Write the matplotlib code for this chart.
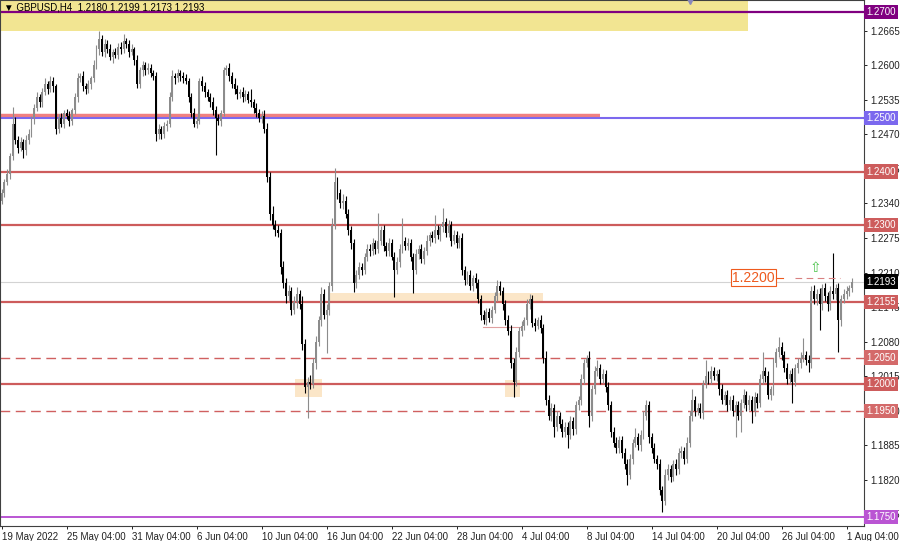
#%%
# GBPUSD H4 chart, 19 May - 1 Aug 2022
import numpy as np
import matplotlib
matplotlib.use('Agg')
import matplotlib.pyplot as plt
from matplotlib.patches import Rectangle

plt.rcParams['font.family'] = ['Liberation Sans', 'DejaVu Sans']

# 收盘价, pips above 1.2000, one value per 4H bar (19 May 04:00 -> 1 Aug 12:00)
close_pips = [
    360, 380, 395, 430, 490, 460, 445, 455, 440, 460, 470, 500, 520, 540, 530,
    550, 565, 555, 570, 560, 480, 500, 490, 510, 505, 495, 515, 540, 575, 580,
    560, 555, 565, 575, 600, 630, 650, 625, 640, 630, 615, 625, 620, 635, 630,
    645, 640, 625, 630, 610, 565, 590, 600, 590, 595, 585, 580, 470, 480, 470,
    485, 490, 540, 580, 575, 585, 580, 575, 570, 540, 510, 490, 495, 570, 560,
    550, 540, 530, 515, 500, 495, 510, 590, 595, 580, 565, 555, 545, 550, 540,
    545, 535, 530, 520, 510, 500, 505, 480, 390, 320, 300, 290, 285, 220, 190,
    165, 175, 140, 155, 170, 150, 75, -5, 5, 0, 40, 80, 120, 170, 130,
    140, 185, 300, 380, 360, 340, 345, 320, 290, 265, 190, 205, 220, 215, 240,
    255, 250, 265, 255, 270, 290, 260, 250, 265, 240, 215, 230, 255, 270, 260,
    265, 240, 215, 245, 255, 235, 250, 270, 280, 275, 290, 280, 295, 305, 285,
    300, 270, 280, 265, 275, 215, 195, 205, 185, 200, 190, 160, 130, 120, 135,
    125, 140, 165, 185, 175, 150, 120, 100, 40, 5, 60, 100, 110, 120, 150,
    160, 115, 110, 120, 105, 50, -30, -60, -45, -80, -60, -75, -90, -80, -95,
    -70, -85, -40, -30, 10, 40, 50, -60, -10, 25, 30, 10, 20, -5, -40,
    -90, -110, -120, -105, -130, -150, -170, -140, -110, -100, -115, -95, -60, -40, -100,
    -120, -140, -150, -200, -220, -170, -160, -175, -150, -160, -130, -125, -140, -110, -60,
    -30, -50, -45, -55, 0, 15, 10, 25, 15, 20, -10, -30, -20, -40, -30,
    -50, -40, -60, -35, -20, -40, -30, -50, -25, -35, 10, 25, 15, -20, -10,
    40, 60, 70, 55, 30, 10, 20, 5, 30, 40, 50, 55, 45, 40, 175,
    160, 170, 150, 180, 165, 150, 175, 170, 180, 120, 160, 170, 175, 180, 193,
]
first_open_pips = 345

# 影线长度 (pips)
upper_wick = [
    8, 6, 10, 5, 32, 12, 7, 9, 6, 8, 10, 5, 7, 9, 6,
    8, 10, 6, 9, 7, 5, 8, 10, 6, 7, 9, 5, 8, 10, 6,
    9, 7, 8, 5, 10, 8, 14, 6, 9, 7, 10, 6, 8, 7, 9,
    14, 6, 8, 9, 5, 10, 7, 8, 6, 9, 7, 5, 8, 10, 6,
    8, 7, 9, 10, 6, 8, 5, 7, 9, 6, 8, 10, 7, 6, 9,
    8, 6, 7, 10, 9, 8, 6, 7, 5, 9, 8, 10, 7, 6, 9,
    8, 7, 20, 6, 9, 7, 8, 10, 12, 9, 15, 8, 10, 7, 12,
    9, 11, 8, 10, 12, 7, 15, 10, 8, 12, 9, 10, 8, 12, 9,
    10, 8, 12, 27, 10, 8, 12, 9, 10, 7, 8, 10, 9, 8, 7,
    9, 8, 10, 7, 52, 8, 9, 7, 10, 8, 9, 10, 8, 43, 7,
    9, 8, 6, 10, 7, 9, 8, 10, 7, 8, 28, 9, 7, 26, 8,
    9, 7, 10, 8, 6, 9, 8, 7, 10, 6, 9, 8, 7, 10, 8,
    9, 7, 8, 10, 9, 7, 8, 10, 12, 9, 10, 8, 9, 7, 10,
    10, 8, 9, 7, 10, 8, 12, 9, 10, 8, 9, 7, 10, 8, 9,
    10, 8, 9, 7, 10, 8, 5, 12, 9, 10, 15, 8, 9, 7, 10,
    8, 9, 10, 7, 8, 9, 10, 8, 7, 18, 9, 8, 10, 10, 9,
    8, 10, 7, 9, 8, 10, 9, 7, 8, 10, 9, 8, 7, 10, 9,
    20, 8, 9, 10, 8, 30, 9, 10, 8, 7, 9, 10, 8, 9, 7,
    10, 8, 9, 7, 10, 8, 9, 7, 10, 8, 9, 35, 8, 10, 7,
    9, 8, 19, 10, 8, 9, 7, 10, 8, 9, 10, 32, 8, 9, 10,
    12, 9, 10, 8, 11, 9, 10, 72, 9, 10, 8, 9, 10, 7, 6,
]
lower_wick = [
    7, 8, 6, 10, 9, 8, 10, 7, 15, 9, 8, 6, 10, 7, 9,
    8, 7, 9, 6, 10, 10, 8, 7, 9, 6, 10, 8, 7, 9, 6,
    8, 10, 7, 9, 6, 8, 10, 7, 9, 8, 6, 10, 7, 8, 9,
    7, 8, 10, 6, 9, 8, 7, 10, 9, 6, 8, 7, 12, 9, 8,
    7, 9, 6, 8, 10, 7, 9, 8, 6, 10, 8, 7, 9, 6, 8,
    10, 7, 9, 8, 69, 7, 9, 6, 8, 10, 7, 9, 8, 6, 10,
    8, 7, 9, 10, 8, 7, 9, 8, 10, 12, 9, 11, 8, 12, 10,
    12, 9, 10, 8, 12, 9, 10, 12, 59, 10, 8, 12, 9, 10, 8,
    71, 9, 10, 8, 12, 9, 10, 8, 9, 10, 17, 9, 8, 10, 7,
    8, 9, 7, 10, 8, 9, 10, 8, 9, 7, 51, 8, 10, 9, 7,
    8, 9, 44, 7, 10, 8, 9, 7, 10, 8, 9, 7, 10, 8, 9,
    8, 10, 7, 9, 8, 10, 9, 7, 8, 10, 9, 8, 10, 7, 9,
    8, 10, 7, 9, 8, 10, 9, 8, 10, 29, 9, 8, 10, 9, 8,
    9, 8, 10, 7, 9, 10, 9, 8, 10, 19, 9, 8, 10, 9, 25,
    8, 10, 9, 8, 10, 9, 7, 20, 9, 8, 10, 9, 8, 10, 9,
    10, 8, 9, 10, 8, 9, 20, 8, 10, 9, 8, 10, 9, 8, 10,
    9, 8, 10, 9, 20, 8, 10, 9, 8, 10, 9, 8, 10, 9, 8,
    9, 10, 8, 9, 10, 8, 9, 10, 8, 9, 10, 8, 9, 10, 8,
    9, 50, 8, 30, 9, 10, 8, 23, 9, 10, 8, 9, 10, 8, 9,
    10, 8, 9, 10, 8, 9, 10, 40, 8, 9, 10, 8, 9, 18, 9,
    10, 12, 48, 10, 9, 12, 10, 9, 11, 60, 10, 8, 9, 10, 7,
]

date_labels = ['19 May 2022', '25 May 04:00', '31 May 04:00', '6 Jun 04:00',
               '10 Jun 04:00', '16 Jun 04:00', '22 Jun 04:00', '28 Jun 04:00',
               '4 Jul 04:00', '8 Jul 04:00', '14 Jul 04:00', '20 Jul 04:00',
               '26 Jul 04:00', '1 Aug 04:00']
bars_per_label = 24

price_ticks = ['1.1755', '1.1820', '1.1885', '1.1950', '1.2015', '1.2080', '1.2145',
               '1.2210', '1.2275', '1.2340', '1.2405', '1.2470', '1.2535', '1.2600', '1.2665']

# 水平线
solid_levels = [1.2400, 1.2300, 1.2155, 1.2000]
dashed_levels = [1.2050, 1.1950]
box_levels = [1.2700, 1.2500, 1.2400, 1.2300, 1.2193, 1.2155, 1.2050, 1.2000, 1.1950, 1.1750]
box_colors = ['#800080', '#7b68ee', '#cd5c5c', '#cd5c5c', '#000000',
              '#cd5c5c', '#d46a6a', '#cd5c5c', '#d46a6a', '#ba55d3']

assert len(close_pips) == len(upper_wick) == len(lower_wick)

#%%
c = 1.2 + np.array(close_pips) / 10000
o = np.r_[1.2 + first_open_pips / 10000, c[:-1]]
hi = np.maximum(o, c) + np.array(upper_wick) / 10000
lo = np.minimum(o, c) - np.array(lower_wick) / 10000
idx = np.arange(len(c))
up = c >= o

px = 2.708  # pixels per bar
fig = plt.figure(figsize=(9, 5.41), dpi=100)
ax = fig.add_axes([0, 15 / 541, 864 / 900, 526 / 541])
ax.set_xlim(-1.7 / px, (864 - 1.7) / px)
ax.set_ylim(1.17332, 1.27226)

# zones
ax.add_patch(Rectangle((-2, 1.26645), (748 - 1.7) / px + 2, 0.01, fc='#f2e592', ec='none', zorder=0))
for x0, x1, y0, y1 in [(330, 543, 1.21555, 1.21715), (295, 322, 1.19755, 1.20095), (505, 520, 1.19755, 1.20075)]:
    ax.add_patch(Rectangle(((x0 - 1.7) / px, y0), (x1 - x0) / px, y1 - y0, fc='#fbe6c8', ec='none', zorder=0))

ax.axhline(1.2700, color='#800080', lw=1.6, zorder=1)
ax.plot([-2, (600 - 1.7) / px], [1.25035, 1.25035], color='#f08080', lw=3.2, zorder=1, solid_capstyle='butt')
ax.axhline(1.2500, color='#7b68ee', lw=1.5, zorder=1)
for lv in solid_levels:
    ax.axhline(lv, color='#cd5c5c', lw=1.6, zorder=1)
for lv in dashed_levels:
    ax.axhline(lv, color='#d06060', lw=1.0, dashes=(7, 4), zorder=1)
ax.axhline(1.1750, color='#ba55d3', lw=1.4, zorder=1)
ax.axhline(1.2193, color='#d3d3d3', lw=0.8, zorder=1)
ax.plot([(483 - 1.7) / px, (520 - 1.7) / px], [1.2108, 1.2108], color='#e0a0a0', lw=0.8, zorder=1)

# candles
ax.vlines(idx[up], lo[up], hi[up], color='#8c8c8c', lw=0.8, zorder=2)
ax.vlines(idx[~up], lo[~up], hi[~up], color='black', lw=0.8, zorder=2)
body = np.maximum(np.abs(c - o), 0.0002)
ax.bar(idx, body, bottom=np.minimum(o, c), width=0.72,
       color=np.where(up, '#8c8c8c', 'black'), lw=0, zorder=3)

# 1.2200 label
ax.text((732 - 1.7) / px, 1.2200, '1.2200', color='#ee5a1e', fontsize=10, va='center', ha='left',
        bbox=dict(boxstyle='square,pad=0.1', fc='white', ec='#ee5a1e', lw=0.8), zorder=5)
ax.plot([(776 - 1.7) / px, (783 - 1.7) / px], [1.2200, 1.2200], color='#ee5a1e', lw=0.8, zorder=5)
ax.plot([(795 - 1.7) / px, (840 - 1.7) / px], [1.2200, 1.2200], color='#d98080', lw=0.8, dashes=(6, 4), zorder=5)
ax.text((815 - 1.7) / px, 1.2219, '\u21e7', color='#4cc44c', fontsize=10, ha='center', va='center',
        family='DejaVu Sans', zorder=5)
ax.plot([(690 - 1.7) / px], [1.2720], marker='v', ms=4, color='#8888bb', clip_on=False, zorder=5)

# axes
ax.yaxis.tick_right()
ax.set_yticks([float(t) for t in price_ticks])
ax.set_yticklabels(price_ticks)
ax.tick_params(axis='y', length=2.5, pad=2, labelsize=7, colors='#222222', width=0.7)
ax.set_xticks(np.arange(len(date_labels)) * bars_per_label)
ax.set_xticklabels(date_labels, ha='left')
ax.tick_params(axis='x', length=2.5, pad=2, labelsize=7, colors='#222222', width=0.7)
for s in ax.spines.values():
    s.set_color('#404040')
    s.set_linewidth(0.8)

for lv, col in zip(box_levels, box_colors):
    ax.text(1.0025, lv, f'{lv:.4f}', transform=ax.get_yaxis_transform(), ha='left', va='center',
            color='white', fontsize=7, clip_on=False, zorder=6,
            bbox=dict(boxstyle='square,pad=0.22', fc=col, ec='none'))

fig.text(4 / 900, 1 - 7 / 541, '\u25bc GBPUSD,H4  1.2180 1.2199 1.2173 1.2193', fontsize=7,
         va='center', ha='left', color='black')

fig.savefig('out.png', dpi=100)
plt.close(fig)
